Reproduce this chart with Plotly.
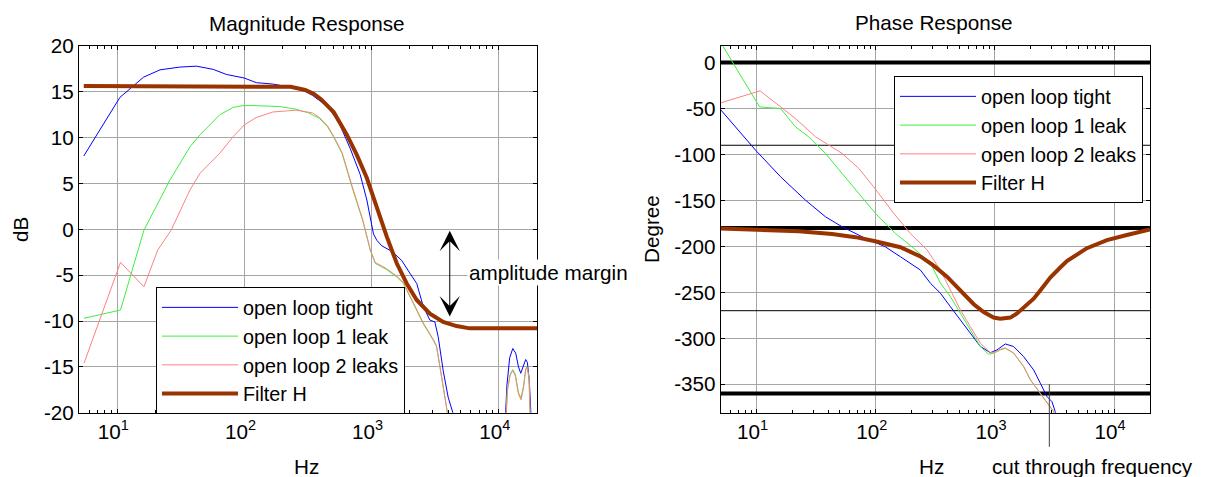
import numpy as np
import plotly.graph_objects as go

# ---------------- data ----------------
series_names = ["open loop tight", "open loop 1 leak", "open loop 2 leaks", "Filter H"]
series_colors = ["#0000FF", "#3CF03C", "#FF8080", "#993300"]

# Magnitude (dB)
mag_tight_f = [5.45, 10.5, 16.1, 21.7, 31, 42, 56.8, 72, 100, 124, 167, 213, 280, 344, 450, 520, 567, 680, 767,
               813, 918, 975, 1005, 1035, 1100, 1205, 1443, 1727, 2005, 2264, 2549, 2875, 3146, 3340, 3657, 4000,
               4378, 5000, 10500, 11100, 11600, 12200, 12900, 13600, 14300, 14900, 15500, 16300, 16800, 17400,
               17900, 18500]
mag_tight_v = [8.0, 14.4, 16.6, 17.4, 17.7, 17.8, 17.45, 16.9, 16.5, 16.0, 15.85, 15.56, 15.3, 14.6, 13.4, 12.2,
               11.3, 8.8, 7.0, 6.0, 3.2, 1.5, 0.3, -0.5, -1.2, -1.8, -2.4, -3.4, -4.8, -5.9, -8.4, -9.9, -10.1,
               -11.7, -15.4, -18.3, -20.1, -30, -30, -22, -17, -14.0, -13.0, -13.5, -15.0, -15.7, -15.0, -14.2,
               -14.5, -16.5, -20, -30]

mag_1leak_f = [5.48, 10.6, 16.2, 26, 37.3, 44.7, 64, 81.5, 97.5, 117, 189, 255, 320, 389, 450, 501, 585, 700, 850,
               977, 1067, 1316, 1577, 1778, 2130, 2550, 3055, 3243, 3550, 3885, 4000, 4500, 10800, 11300, 11700,
               12300, 12900, 13500, 14300, 15000, 15700, 16300, 16700, 17300, 17800, 18500]
mag_1leak_v = [-9.7, -8.8, -0.1, 5.4, 9.0, 10.3, 12.5, 13.3, 13.5, 13.5, 13.4, 13.1, 12.7, 12.1, 11.2, 10.1, 8.3,
               4.65, 1.0, -2.3, -3.7, -4.4, -5.2, -5.9, -8.1, -10.3, -12.1, -12.8, -16.1, -19.4, -20.5, -30, -30,
               -22, -17.5, -15.8, -15.3, -15.8, -17.8, -18.4, -17.0, -15.2, -15.0, -16, -20, -30]

mag_2leak_f = [5.48, 10.6, 16.2, 20.8, 26.5, 37.3, 44.7, 64, 81.5, 100, 124, 167, 255, 344, 389, 450, 501, 585, 700,
               850, 977, 1067, 1316, 1577, 1778, 2130, 2550, 3055, 3243, 3550, 3885, 4000, 4500, 10800, 11300,
               11700, 12300, 12900, 13500, 14300, 15000, 15700, 16300, 16700, 17300, 17800, 18500]
mag_2leak_v = [-14.6, -3.6, -6.26, -2.26, -0.1, 4.3, 6.1, 8.3, 10.1, 11.4, 12.2, 12.8, 13.0, 12.7, 12.2, 11.3,
               10.2, 8.4, 4.8, 1.1, -2.2, -3.6, -4.3, -5.1, -5.8, -8.0, -10.2, -12.0, -12.7, -16.0, -19.3, -20.5,
               -30, -30, -22, -17.6, -15.9, -15.4, -16.0, -18.0, -18.6, -17.2, -15.3, -15.1, -16.2, -20, -30]

mag_filter_f = [5.45, 100, 231, 300, 350, 400, 503, 640, 767, 918, 1100, 1317, 1577, 1889, 2264, 2875, 3657, 4656,
                5915, 8000, 20000]
mag_filter_v = [15.63, 15.63, 15.55, 15.2, 14.8, 14.2, 12.8, 10.3, 8.1, 5.6, 2.3, -0.8, -3.7, -5.9, -7.7, -9.2,
                -10.1, -10.55, -10.8, -10.8, -10.8]

# Phase (degree)
ph_tight_f = [5.0, 9.8, 15.9, 25.7, 37.8, 52.2, 82, 120, 161, 237, 288, 349, 423, 513, 622, 755, 915, 1040, 1222,
              1435, 1741, 2113, 2402, 2735, 3008, 3205, 3400]
ph_tight_v = [-51.4, -95.3, -124.3, -149.7, -167.8, -178.7, -191.3, -200.4, -211.3, -225.8, -240.2, -251, -265.7,
              -280, -294.6, -309, -315.7, -312.7, -306.2, -309, -320, -334.5, -348.9, -363.5, -368.9, -379.8, -400]

ph_1leak_f = [5.0, 10.6, 15.9, 21.2, 27.4, 37.8, 52.2, 72.1, 99.4, 124, 146, 208, 288, 349, 423, 513, 622, 755,
              886, 975, 1109, 1222, 1435, 1741, 1982, 2402, 2913, 3105, 3300]
ph_1leak_v = [21.8, -48.3, -50, -70, -80.9, -98.9, -120.7, -142.4, -164.1, -176.8, -185.9, -202, -218.5, -240,
              -254.8, -272.8, -291, -309, -317.4, -316.3, -312.7, -310.9, -316.3, -330.9, -345.3, -359.8, -374.3,
              -379.8, -400]

ph_2leak_f = [5.0, 10.7, 21.2, 31.3, 52.2, 72, 96, 141.6, 195, 270, 349, 423, 513, 622, 755, 915, 1000, 1109, 1222,
              1435, 1741, 1982, 2402, 2913, 3105, 3300]
ph_2leak_v = [-43.9, -30.8, -60.9, -80.9, -98.9, -115.2, -135.2, -164.1, -185.9, -204, -225.8, -247.5, -269.2,
              -287.4, -305.4, -315.7, -315, -312, -310.5, -316, -330.5, -345, -359.5, -374, -379.8, -400]

ph_filter_f = [5.0, 10.5, 22.6, 43, 67.6, 99, 161, 237, 306, 396, 513, 583, 664, 804, 975, 1109, 1345, 1531, 1740,
               2113, 2400, 2913, 3530, 4016, 5910, 8710, 12800, 20000]
ph_filter_v = [-180.5, -181.5, -183.5, -186.5, -190, -194.5, -201, -211, -221, -233, -248, -255, -263, -271.5,
               -277.5, -278.8, -277.5, -273, -267, -257, -248, -234, -223, -216, -202, -193.2, -187.7, -181.5]

phase_thick_refs = [0, -180, -360]
phase_thin_refs = [-90, -270]

x_range_hz = [5, 20000]
x_tick_vals = [10, 100, 1000, 10000]
x_tick_text = ["10<sup>1</sup>", "10<sup>2</sup>", "10<sup>3</sup>", "10<sup>4</sup>"]
x_minor_vals = [m * 10 ** k for k in range(0, 5) for m in range(2, 10) if 5 <= m * 10 ** k <= 20000]
mag_tick_vals = [-20, -15, -10, -5, 0, 5, 10, 15, 20]
ph_tick_vals = [-350, -300, -250, -200, -150, -100, -50, 0]
cut_freq = 2860
margin_freq = 4120
margin_top_db, margin_bottom_db = 0.0, -9.5

# ---------------- figure ----------------
FONT = "Liberation Sans, Arial, sans-serif"
FS = 20.7
FS_LEG = 19.8
W, H = 1213, 477

fig = go.Figure()

mag_sets = [(mag_tight_f, mag_tight_v), (mag_1leak_f, mag_1leak_v), (mag_2leak_f, mag_2leak_v),
            (mag_filter_f, mag_filter_v)]
ph_sets = [(ph_tight_f, ph_tight_v), (ph_1leak_f, ph_1leak_v), (ph_2leak_f, ph_2leak_v),
           (ph_filter_f, ph_filter_v)]
widths = [1, 1, 1, 4]

for (f, v), name, col, w in zip(mag_sets, series_names, series_colors, widths):
    fig.add_trace(go.Scatter(x=f, y=v, mode="lines", name=name, line=dict(color=col, width=w),
                             xaxis="x", yaxis="y", legend="legend"))

# reference lines in the phase plot
for r in phase_thick_refs:
    fig.add_trace(go.Scatter(x=x_range_hz, y=[r, r], mode="lines", line=dict(color="black", width=4),
                             showlegend=False, hoverinfo="skip", xaxis="x2", yaxis="y2"))
for r in phase_thin_refs:
    fig.add_trace(go.Scatter(x=x_range_hz, y=[r, r], mode="lines", line=dict(color="black", width=1),
                             showlegend=False, hoverinfo="skip", xaxis="x2", yaxis="y2"))

for (f, v), name, col, w in zip(ph_sets, series_names, series_colors, widths):
    fig.add_trace(go.Scatter(x=f, y=v, mode="lines", name=name, line=dict(color=col, width=w),
                             xaxis="x2", yaxis="y2", legend="legend2"))

xl0, xl1 = 79 / W, 537 / W
xr0, xr1 = 720.7 / W, 1150 / W
y0d, y1d = 1 - 412.7 / H, 1 - 46 / H

axis_common = dict(showline=True, linecolor="black", linewidth=1, mirror="allticks", ticks="inside",
                   tickcolor="black", ticklen=4, showgrid=True, gridcolor="#a6a6a6", gridwidth=1,
                   zeroline=False, automargin=False, tickfont=dict(family=FONT, size=FS, color="black"))

xaxis_common = dict(axis_common, type="log", range=[np.log10(x_range_hz[0]), np.log10(x_range_hz[1])],
                    tickvals=x_tick_vals, ticktext=x_tick_text, ticklabelshift=-4,
                    minor=dict(tickvals=x_minor_vals, ticks="inside", ticklen=3, tickcolor="black",
                               showgrid=False))

fig.update_layout(
    template="none",
    width=W, height=H, margin=dict(l=0, r=0, t=0, b=0, pad=0, autoexpand=False),
    paper_bgcolor="white", plot_bgcolor="white",
    font=dict(family=FONT, size=FS, color="black"),
    xaxis=dict(xaxis_common, domain=[xl0, xl1], anchor="y"),
    yaxis=dict(axis_common, domain=[y0d, y1d], anchor="x", range=[-20, 20],
               tickvals=mag_tick_vals, ticktext=[str(t) for t in mag_tick_vals]),
    xaxis2=dict(xaxis_common, domain=[xr0, xr1], anchor="y2"),
    yaxis2=dict(axis_common, domain=[y0d, y1d], anchor="x2", range=[-381, 18],
                tickvals=ph_tick_vals, ticktext=[str(t) for t in ph_tick_vals]),
    legend=dict(x=156 / W, y=1 - 287 / H, xanchor="left", yanchor="top", bgcolor="white",
                bordercolor="black", borderwidth=1, itemwidth=76, font=dict(family=FONT, size=FS_LEG),
                tracegroupgap=0),
    legend2=dict(x=894 / W, y=1 - 76 / H, xanchor="left", yanchor="top", bgcolor="white",
                 bordercolor="black", borderwidth=1, itemwidth=76, font=dict(family=FONT, size=FS_LEG),
                 tracegroupgap=0),
    showlegend=True,
)

# titles and axis labels
texts = [
    ("Magnitude Response", 306.5 / W, 1 - 24 / H, 0),
    ("Phase Response", 934 / W, 1 - 23 / H, 0),
    ("dB", 21 / W, 1 - 230 / H, -90),
    ("Degree", 651 / W, 1 - 229 / H, -90),
    ("Hz", 306.5 / W, 1 - 466 / H, 0),
    ("Hz", 932 / W, 1 - 466 / H, 0),
]
for t, x, y, ang in texts:
    fig.add_annotation(text=t, x=x, y=y, xref="paper", yref="paper", showarrow=False,
                       xanchor="center", yanchor="middle", textangle=ang,
                       font=dict(family=FONT, size=FS, color="black"))

fig.add_annotation(text="cut through frequency", x=990 / W, y=1 - 466 / H, xref="paper", yref="paper",
                   showarrow=False, xanchor="left", yanchor="middle",
                   font=dict(family=FONT, size=FS, color="black"))

# amplitude margin double arrow
fig.add_annotation(x=np.log10(margin_freq), y=margin_bottom_db, ax=np.log10(margin_freq), ay=margin_top_db,
                   xref="x", yref="y", axref="x", ayref="y", text="", showarrow=True,
                   arrowhead=3, startarrowhead=3, arrowside="end+start", arrowsize=3.4, startarrowsize=3.4,
                   arrowwidth=1, arrowcolor="black", standoff=0, startstandoff=0)
fig.add_annotation(text="amplitude margin", x=467 / W, y=1 - 272 / H, xref="paper", yref="paper",
                   showarrow=False, xanchor="left", yanchor="middle", bgcolor="white",
                   font=dict(family=FONT, size=FS, color="black"))

# cut through frequency marker
fig.add_shape(type="line", xref="x2", yref="y2 domain", x0=cut_freq, x1=cut_freq, y0=0.078, y1=-0.093,
              line=dict(color="#404040", width=1))

fig.write_html("out.html")
